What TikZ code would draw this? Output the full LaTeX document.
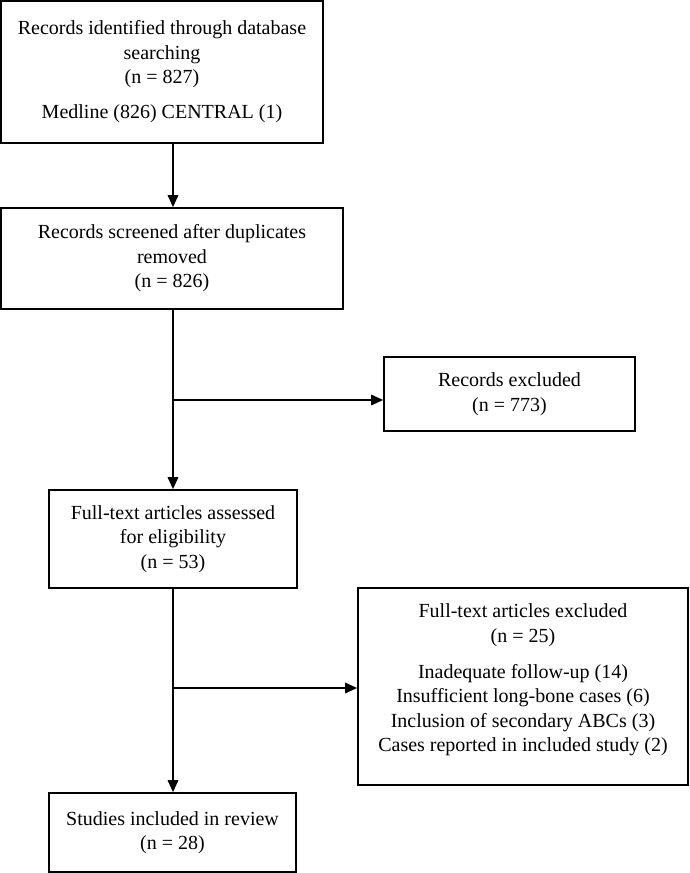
\documentclass[tikz,border=0pt]{standalone}
\usepackage{fontspec}
\setmainfont{Liberation Serif}
\usetikzlibrary{arrows.meta}
\tikzset{
  box/.style={draw=black, line width=1.7pt, rectangle, inner sep=0pt, align=center,
    font=\fontsize{20}{24.5}\selectfont},
  conn/.style={line width=1.7pt},
  arr/.style={line width=1.7pt, -{Triangle[length=12pt,width=10.5pt]}}
}
\begin{document}
\begin{tikzpicture}[x=1pt,y=-1pt]
\useasboundingbox (0,0) rectangle (689,873);
\node[box, minimum width=322pt, minimum height=142pt] (b1) at (162,72)
  {Records identified through database\\ searching\\ (n = 827)\\[10.5pt] Medline (826) CENTRAL (1)};
\node[box, minimum width=342pt, minimum height=101pt] (b2) at (172,258.5)
  {Records screened after duplicates\\ removed\\ (n = 826)};
\node[box, minimum width=251pt, minimum height=74pt] (e1) at (509.5,394)
  {Records excluded\\ (n = 773)};
\node[box, minimum width=248pt, minimum height=98pt] (b3) at (173,539)
  {Full-text articles assessed\\ for eligibility\\ (n = 53)};
\node[box, minimum width=330pt, minimum height=197pt] (e2) at (523,686.5)
  {Full-text articles excluded\\ (n = 25)\\[11.5pt] Inadequate follow-up (14)\\ Insufficient long-bone cases (6)\\ Inclusion of secondary ABCs (3)\\ Cases reported in included study (2)\\[-7pt]\mbox{}};
\node[box, minimum width=247pt, minimum height=79pt] (b4) at (172.5,832.5)
  {Studies included in review\\ (n = 28)};
\coordinate (j1) at (173,400);
\coordinate (j2) at (173,688);
\draw[arr] (b1.south -| b3.north) -- (b2.north -| b3.north);
\draw[arr] (b2.south -| b3.north) -- (b3.north);
\draw[arr] (j1) -- (j1 -| e1.west);
\draw[arr] (b3.south) -- (b4.north -| b3.south);
\draw[arr] (j2) -- (j2 -| e2.west);
\end{tikzpicture}
\end{document}
